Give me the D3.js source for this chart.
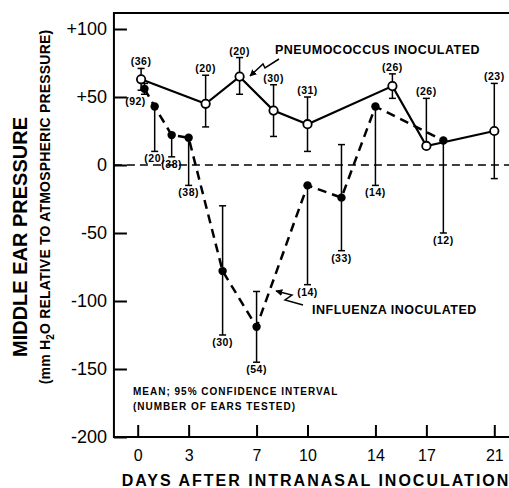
<!DOCTYPE html>
<html><head><meta charset="utf-8">
<script src="https://cdn.jsdelivr.net/npm/d3@7"></script>
<style>
html,body{margin:0;padding:0;background:#fff;}
svg{display:block;font-family:"Liberation Sans",Arial,Helvetica,sans-serif;}
</style></head>
<body>
<svg id="c" width="509" height="488"></svg>
<script>
// ---- data ----
const pneuDays  = [0.2, 4, 6, 8, 10, 15, 17, 21];
const pneuMean  = [63, 45, 65, 40, 30, 58, 14, 25];
const pneuUpper = [71, 66, 79, 59, 50, 67, 49, 60];
const pneuLower = [55, 28, 52, 21, 10, 49, null, -10];
const pneuN     = [36, 20, 20, 30, 31, 26, 26, 23];

const fluDays  = [0.4, 1, 2, 3, 5, 7, 10, 12, 14, 18];
const fluMean  = [56, 43, 22, 20, -78, -119, -15, -24, 43, 18];
const fluUpper = [60, null, null, null, -30, -93, null, 15, null, null];
const fluLower = [52, 10, 6, -15, -125, -145, -88, -63, -15, -50];
const fluN     = [92, 20, 38, 38, 30, 54, 14, 33, 14, 12];

const xTicks = [0, 3, 7, 10, 14, 17, 21];
const yTicks = [100, 50, 0, -50, -100, -150, -200];
const yTickLabels = ["+100", "+50", "0", "-50", "-100", "-150", "-200"];

// ---- scales ----
const svg = d3.select("#c");
const x = d3.scaleLinear().domain([0, 21]).range([137.7, 494.3]);
const y = d3.scaleLinear().domain([-200, 100]).range([437, 29]);
const xLeft = x(-1.4), yTop = y(111.8), xRight = 512;

// frame (top, left, bottom)
svg.append("path")
  .attr("d", `M${xRight},${yTop}H${xLeft}V${y(-200)}H${xRight}`)
  .attr("fill", "none").attr("stroke", "#000").attr("stroke-width", 2);

// y axis
const yAxis = svg.append("g").attr("transform", `translate(${xLeft},0)`)
  .call(d3.axisLeft(y).tickValues(yTicks)
    .tickFormat((d, i) => yTickLabels[i]).tickSizeInner(-13).tickSizeOuter(0).tickPadding(7));
yAxis.select(".domain").remove();
yAxis.selectAll("line").attr("stroke-width", 2);
yAxis.selectAll("text").attr("font-size", 18).attr("font-family", "Liberation Sans, Arial").attr("fill", "#000");

// x axis
const xAxis = svg.append("g").attr("transform", `translate(0,${y(-200)})`)
  .call(d3.axisBottom(x).tickValues(xTicks).tickSizeInner(-12).tickSizeOuter(0).tickPadding(12.5));
xAxis.select(".domain").remove();
xAxis.selectAll("line").attr("stroke-width", 2);
xAxis.selectAll("text").attr("font-size", 16).attr("font-family", "Liberation Sans, Arial").attr("fill", "#000");

// zero reference line
svg.append("line").attr("x1", xLeft).attr("x2", xRight).attr("y1", y(0)).attr("y2", y(0))
  .attr("stroke", "#000").attr("stroke-width", 1.6).attr("stroke-dasharray", "8,5");

// axis titles
svg.append("text").attr("transform", `translate(27,${(y(-200)+y(100))/2 + 4}) rotate(-90)`)
  .attr("text-anchor", "middle").attr("font-size", 20).attr("font-weight", "bold")
  .text("MIDDLE EAR PRESSURE");
const t2 = svg.append("text").attr("transform", `translate(50,207) rotate(-90)`)
  .attr("text-anchor", "middle").attr("font-size", 14).attr("font-weight", "bold")
  .attr("letter-spacing", 0.2);
t2.append("tspan").text("(mm H");
t2.append("tspan").attr("dy", 4).attr("font-size", 10).text("2");
t2.append("tspan").attr("dy", -4).text("O RELATIVE TO ATMOSPHERIC PRESSURE)");

svg.append("text").attr("x", 316).attr("y", 486).attr("text-anchor", "middle")
  .attr("font-size", 16).attr("font-weight", "bold").attr("letter-spacing", 2)
  .text("DAYS AFTER INTRANASAL INOCULATION");

// error bars
function errBars(days, mean, up, lo, cls) {
  const g = svg.append("g").attr("class", cls).attr("stroke", "#000").attr("stroke-width", 1.5);
  days.forEach((d, i) => {
    const cx = x(d);
    const top = up[i] == null ? mean[i] : up[i];
    const bot = lo[i] == null ? mean[i] : lo[i];
    g.append("line").attr("x1", cx).attr("x2", cx).attr("y1", y(top)).attr("y2", y(bot));
    if (up[i] != null) g.append("line").attr("x1", cx - 3.5).attr("x2", cx + 3.5).attr("y1", y(up[i])).attr("y2", y(up[i]));
    if (lo[i] != null) g.append("line").attr("x1", cx - 3.5).attr("x2", cx + 3.5).attr("y1", y(lo[i])).attr("y2", y(lo[i]));
  });
}
errBars(pneuDays, pneuMean, pneuUpper, pneuLower, "pe");
errBars(fluDays, fluMean, fluUpper, fluLower, "fe");

// lines
const line = d3.line().x(d => x(d[0])).y(d => y(d[1]));
svg.append("path").datum(fluDays.map((d, i) => [d, fluMean[i]])).attr("d", line)
  .attr("fill", "none").attr("stroke", "#000").attr("stroke-width", 2.5).attr("stroke-dasharray", "9,6");
svg.append("path").datum(pneuDays.map((d, i) => [d, pneuMean[i]])).attr("d", line)
  .attr("fill", "none").attr("stroke", "#000").attr("stroke-width", 2.2);

// markers
svg.append("g").selectAll("circle").data(fluDays).join("circle")
  .attr("cx", d => x(d)).attr("cy", (d, i) => y(fluMean[i])).attr("r", 4.2).attr("fill", "#000");
svg.append("g").selectAll("circle").data(pneuDays).join("circle")
  .attr("cx", d => x(d)).attr("cy", (d, i) => y(pneuMean[i])).attr("r", 4.2)
  .attr("fill", "#fff").attr("stroke", "#000").attr("stroke-width", 1.8);

// sample size labels
const lab = svg.append("g").attr("font-size", 10.5).attr("font-weight", "bold")
  .attr("letter-spacing", 0.5).attr("text-anchor", "middle");
pneuDays.forEach((d, i) => {
  lab.append("text").attr("x", x(d)).attr("y", y(pneuUpper[i]) - 3).text(`(${pneuN[i]})`);
});
fluDays.forEach((d, i) => {
  lab.append("text").attr("x", x(d) + (i === 0 ? -9 : 0)).attr("y", y(fluLower[i]) + 11).text(`(${fluN[i]})`);
});

// annotations
const ann = svg.append("g").attr("font-weight", "bold").attr("fill", "#000");
ann.append("text").attr("x", 275).attr("y", 54).attr("font-size", 12.5).attr("letter-spacing", 0.5)
  .text("PNEUMOCOCCUS INOCULATED");
ann.append("text").attr("x", 312).attr("y", 314).attr("font-size", 12.5).attr("letter-spacing", 0.5)
  .text("INFLUENZA INOCULATED");
ann.append("text").attr("x", 133).attr("y", 395).attr("font-size", 10).attr("letter-spacing", 1)
  .text("MEAN; 95% CONFIDENCE INTERVAL");
ann.append("text").attr("x", 133).attr("y", 410).attr("font-size", 10).attr("letter-spacing", 1)
  .text("(NUMBER OF EARS TESTED)");

// squiggle arrows
svg.append("defs").append("marker").attr("id", "ah").attr("viewBox", "0 0 10 10")
  .attr("refX", 9).attr("refY", 5).attr("markerWidth", 7).attr("markerHeight", 7)
  .attr("orient", "auto-start-reverse").attr("markerUnits", "userSpaceOnUse")
  .append("path").attr("d", "M0,0L10,5L0,10Z").attr("fill", "#000");
svg.append("path").attr("d", "M279,59L265,68L263,64L250,76")
  .attr("fill", "none").attr("stroke", "#000").attr("stroke-width", 1.5).attr("marker-end", "url(#ah)");
svg.append("path").attr("d", "M303,305L285,300L292,295L276,291")
  .attr("fill", "none").attr("stroke", "#000").attr("stroke-width", 1.5).attr("marker-end", "url(#ah)");
</script>
</body></html>
